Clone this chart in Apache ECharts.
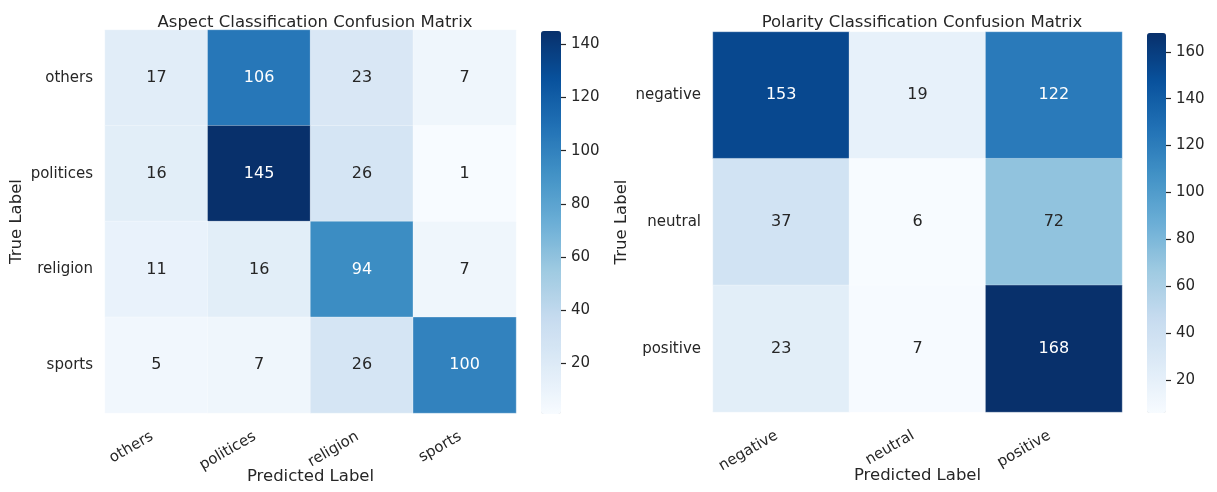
<!DOCTYPE html>
<html>
<head>
<meta charset="UTF-8">
<script src="https://cdn.jsdelivr.net/npm/echarts@6/dist/echarts.min.js"></script>
<title>Confusion matrices</title>
</head>
<body style="margin:0;background:#fff">
<div id="main" style="width:1217px;height:492px;"></div>
<script>
// data
var aspectLabels = ['others', 'politices', 'religion', 'sports'];
var aspectMatrix = [
  [17, 106, 23, 7],
  [16, 145, 26, 1],
  [11, 16, 94, 7],
  [5, 7, 26, 100]
];
var aspectTicks = [20, 40, 60, 80, 100, 120, 140];

var polarityLabels = ['negative', 'neutral', 'positive'];
var polarityMatrix = [
  [153, 19, 122],
  [37, 6, 72],
  [23, 7, 168]
];
var polarityTicks = [20, 40, 60, 80, 100, 120, 140, 160];

var blues = ['#f7fbff', '#deebf7', '#c6dbef', '#9ecae1', '#6baed6', '#4292c6', '#2171b5', '#08519c', '#08306b'];
var txt = '#262626';
var font = 'DejaVu Sans';

function range(m) {
  var all = [].concat.apply([], m);
  return [Math.min.apply(null, all), Math.max.apply(null, all)];
}

function cells(m) {
  var r = range(m), out = [];
  m.forEach(function (row, i) {
    row.forEach(function (v, j) {
      var t = (v - r[0]) / (r[1] - r[0]);
      out.push({value: [j, i, v], label: {color: t > 0.5 ? '#ffffff' : txt}});
    });
  });
  return out;
}

var aR = range(aspectMatrix), pR = range(polarityMatrix);

var grids = [
  {left: 105, top: 30, width: 411, height: 383, outerBoundsMode: 'none', containLabel: false},
  {left: 713, top: 32, width: 409, height: 380, outerBoundsMode: 'none', containLabel: false},
  {left: 541, top: 31, width: 20, height: 383, outerBoundsMode: 'none', containLabel: false},
  {left: 1147, top: 33, width: 19, height: 380, outerBoundsMode: 'none', containLabel: false}
];

function catX(idx, labels) {
  return {
    gridIndex: idx, type: 'category', data: labels,
    axisLine: {show: false}, axisTick: {show: false}, splitLine: {show: false},
    axisLabel: {rotate: 30, margin: 20, padding: [0, 5, 0, 0], fontSize: 15, color: txt, fontFamily: font},
    name: 'Predicted Label', nameLocation: 'middle', nameGap: 55, nameMoveOverlap: false,
    nameTextStyle: {fontSize: 16.5, color: txt, fontFamily: font}
  };
}
function catY(idx, labels, gap) {
  return {
    gridIndex: idx, type: 'category', data: labels, inverse: true,
    axisLine: {show: false}, axisTick: {show: false}, splitLine: {show: false},
    axisLabel: {margin: 12, fontSize: 15, color: txt, fontFamily: font},
    name: 'True Label', nameLocation: 'middle', nameGap: gap, nameRotate: 90, nameMoveOverlap: false,
    nameTextStyle: {fontSize: 16.5, color: txt, fontFamily: font}
  };
}
function barX(idx) {
  return {gridIndex: idx, type: 'value', min: 0, max: 1, show: false};
}
function barY(idx, r, ticks) {
  return {
    gridIndex: idx, type: 'value', min: r[0], max: r[1], position: 'right', z: 10,
    axisLine: {show: true, onZero: false, lineStyle: {color: 'rgba(0,0,0,0)'}}, splitLine: {show: false},
    axisTick: {show: true, inside: false, length: 5, lineStyle: {color: txt, width: 1.2}, customValues: ticks},
    axisLabel: {fontSize: 15, color: txt, fontFamily: font, margin: 10, customValues: ticks}
  };
}

var option = {
  animation: false,
  textStyle: {fontFamily: font},
  title: [
    {text: 'Aspect Classification Confusion Matrix', left: 310, top: 9, textAlign: 'center',
     textStyle: {fontSize: 16.5, fontWeight: 'normal', color: txt, fontFamily: font}},
    {text: 'Polarity Classification Confusion Matrix', left: 917, top: 9, textAlign: 'center',
     textStyle: {fontSize: 16.5, fontWeight: 'normal', color: txt, fontFamily: font}}
  ],
  grid: grids,
  xAxis: [catX(0, aspectLabels), catX(1, polarityLabels), barX(2), barX(3)],
  yAxis: [catY(0, aspectLabels, 80), catY(1, polarityLabels, 83), barY(2, aR, aspectTicks), barY(3, pR, polarityTicks)],
  visualMap: [
    {type: 'continuous', seriesIndex: 0, min: aR[0], max: aR[1], calculable: false, z: 1,
     left: 541, top: 31, itemWidth: 20, itemHeight: 383, padding: 0, text: null,
     inRange: {color: blues}},
    {type: 'continuous', seriesIndex: 1, min: pR[0], max: pR[1], calculable: false, z: 1,
     left: 1147, top: 33, itemWidth: 19, itemHeight: 380, padding: 0, text: null,
     inRange: {color: blues}}
  ],
  series: [
    {type: 'heatmap', xAxisIndex: 0, yAxisIndex: 0, data: cells(aspectMatrix),
     itemStyle: {borderColor: 'rgba(255,255,255,0.5)', borderWidth: 0.6},
     label: {show: true, fontSize: 16, fontFamily: font, formatter: function (p) { return p.value[2]; }},
     emphasis: {disabled: true}},
    {type: 'heatmap', xAxisIndex: 1, yAxisIndex: 1, data: cells(polarityMatrix),
     itemStyle: {borderColor: 'rgba(255,255,255,0.5)', borderWidth: 0.6},
     label: {show: true, fontSize: 16, fontFamily: font, formatter: function (p) { return p.value[2]; }},
     emphasis: {disabled: true}}
  ]
};

var chart = echarts.init(document.getElementById('main'));
chart.setOption(option);
</script>
</body>
</html>
